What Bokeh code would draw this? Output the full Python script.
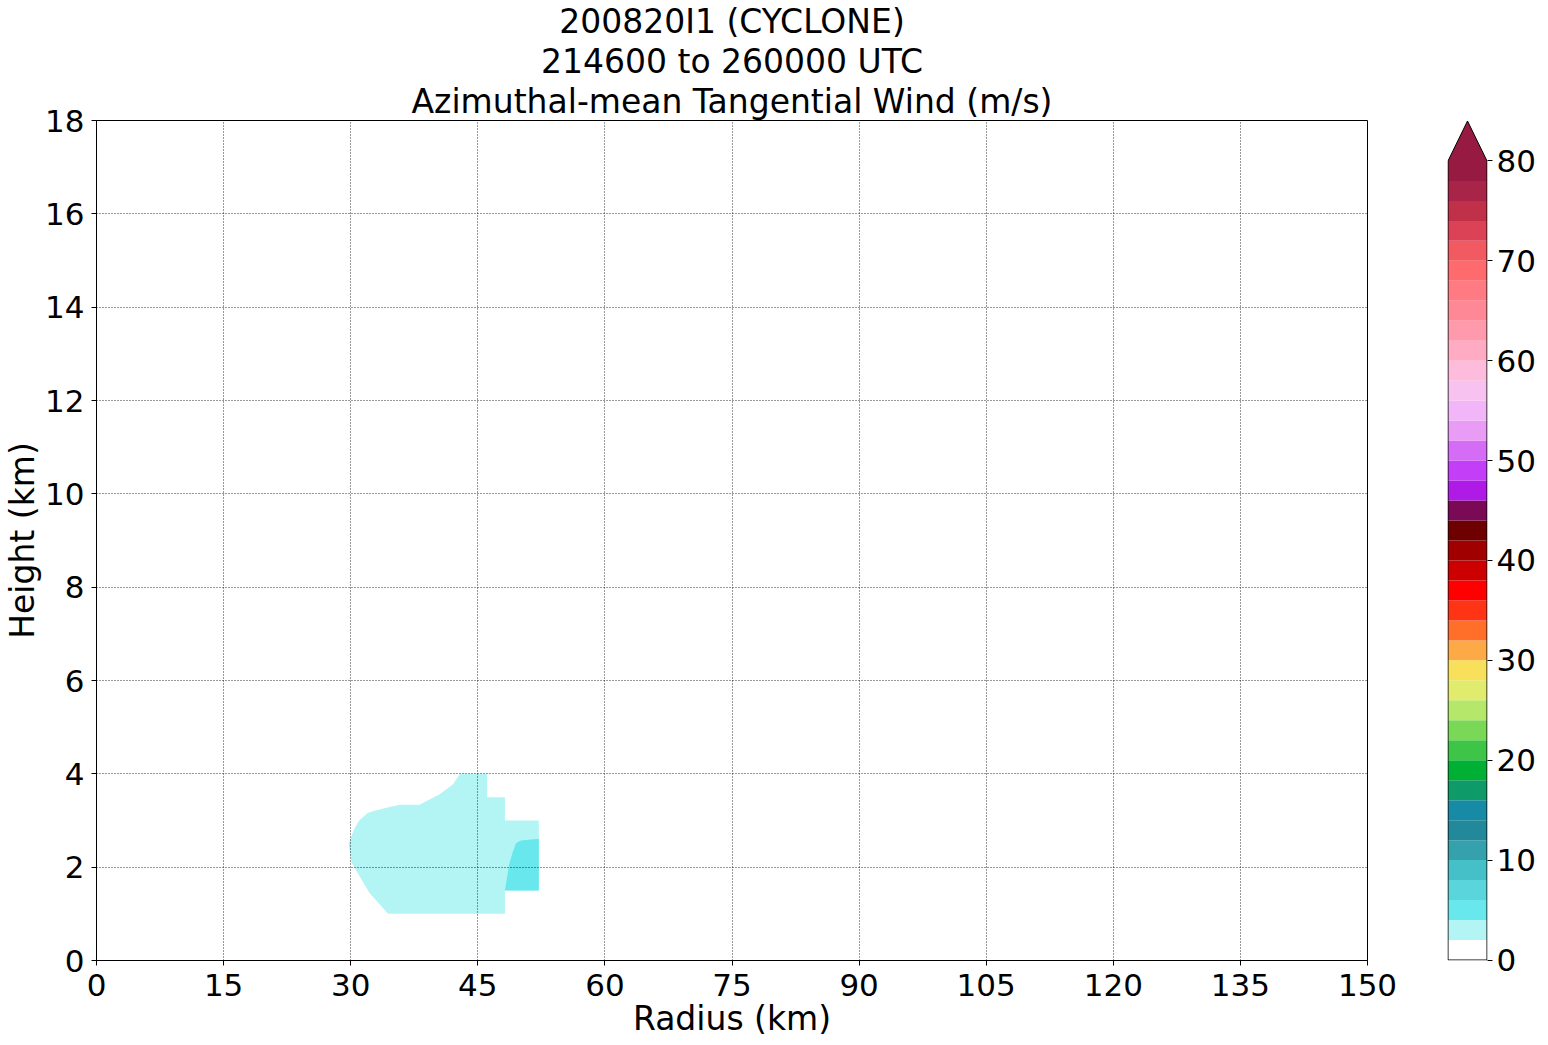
import numpy as np
from bokeh.plotting import figure
from bokeh.models import Range1d, FixedTicker, Title
from bokeh.layouts import row
from bokeh.embed import file_html
from bokeh.resources import INLINE

# ---------------- data ----------------
title_lines = ["200820I1 (CYCLONE)", "214600 to 260000 UTC",
               "Azimuthal-mean Tangential Wind (m/s)"]
x_label = "Radius (km)"
y_label = "Height (km)"
x_ticks = [0, 15, 30, 45, 60, 75, 90, 105, 120, 135, 150]
y_ticks = [0, 2, 4, 6, 8, 10, 12, 14, 16, 18]
cbar_ticks = [0, 10, 20, 30, 40, 50, 60, 70, 80]

# contour levels (m/s) and their fill colours (lower bound of each band)
levels = list(range(0, 82, 2))
level_colors = [
    "#ffffff", "#b3f5f5", "#68e8ec", "#5ad5dc", "#45bfc8", "#35a1ac",
    "#22899b", "#178ba5", "#0f9a6a", "#00b035", "#3ec447", "#7ad857",
    "#b5e86a", "#e1ec6e", "#f8e05a", "#fcaa45", "#ff6f2a", "#ff3414",
    "#ff0000", "#cc0000", "#a00000", "#6e0000", "#7a0a55", "#b01ae6",
    "#c23ff7", "#d56cf6", "#e89cf6", "#f2b6f8", "#f8c2f0", "#fdbcdc",
    "#ffabc4", "#ff9aad", "#ff8896", "#ff7a82", "#fe6a6e", "#f05a60",
    "#dc4255", "#c03048", "#a82448", "#971a42",
]
extend_color = "#971a42"

# filled-contour regions: lower bound of band,
# outline radius (km) and outline height (km)
band_lower = [2, 4]
band_radius = [
    [42.9, 46.1, 46.1, 48.2, 48.2, 52.2, 52.2, 48.2, 48.2, 34.4, 32.2,
     30.1, 29.75, 30.4, 31.0, 32.0, 32.8, 34.6, 35.8, 38.1, 39.3, 40.5,
     42.05],
    [48.2, 48.7, 49.1, 49.5, 50.1, 52.2, 52.2],
]
band_height = [
    [4.0, 4.0, 3.5, 3.5, 3.0, 3.0, 1.5, 1.5, 1.0, 1.0, 1.45,
     2.1, 2.5, 2.81, 3.0, 3.16, 3.21, 3.29, 3.34, 3.34, 3.45, 3.56,
     3.77],
    [1.5, 2.06, 2.31, 2.51, 2.57, 2.61, 1.5],
]

FONT = "DejaVu Sans"
TICK_FS = "31px"
LABEL_FS = "33px"

# ---------------- main plot ----------------
p = figure(frame_width=1271, frame_height=840,
           x_range=Range1d(0, 150), y_range=Range1d(0, 18),
           output_backend="svg", toolbar_location=None, title=None,
           min_border_left=89, min_border_right=31,
           min_border_top=113, min_border_bottom=76)
p.background_fill_color = "white"
p.border_fill_color = "white"

fills = [level_colors[levels.index(b)] for b in band_lower]
p.patches(xs=band_radius, ys=band_height, fill_color=fills,
          line_color=None)

for t in reversed(title_lines):
    p.add_layout(Title(text=t, align="center", text_font=FONT,
                       text_font_size=LABEL_FS, text_font_style="normal",
                       text_color="black", standoff=-1), "above")

for ax in (p.xaxis[0], p.yaxis[0]):
    ax.major_label_text_font = FONT
    ax.major_label_text_font_size = TICK_FS
    ax.major_label_text_color = "black"
    ax.axis_label_text_font = FONT
    ax.axis_label_text_font_size = LABEL_FS
    ax.axis_label_text_font_style = "normal"
    ax.axis_label_text_color = "black"
    ax.major_tick_out = 5
    ax.major_tick_in = 0
    ax.minor_tick_out = 0
    ax.minor_tick_in = 0
    ax.axis_line_color = "black"
    ax.major_tick_line_color = "black"
p.xaxis.ticker = FixedTicker(ticks=x_ticks)
p.yaxis.ticker = FixedTicker(ticks=y_ticks)
p.xaxis.axis_label = x_label
p.yaxis.axis_label = y_label
p.xaxis.major_label_standoff = 8
p.xaxis.axis_label_standoff = 0
p.yaxis.major_label_standoff = 7
p.yaxis.axis_label_standoff = 0

p.xgrid.ticker = FixedTicker(ticks=x_ticks)
p.ygrid.ticker = FixedTicker(ticks=y_ticks)
p.grid.grid_line_color = "black"
p.grid.grid_line_alpha = 0.8
p.grid.grid_line_dash = "1 2"
p.grid.grid_line_width = 1
p.grid.level = "overlay"
p.outline_line_color = "black"
p.outline_line_width = 1

# ---------------- colour bar ----------------
lo, hi = levels[0], levels[-1]
ext = (hi - lo) * 0.05
cb = figure(frame_width=40, frame_height=840,
            x_range=Range1d(-0.5 / 39, 1 + 0.5 / 39),
            y_range=Range1d(lo - 0.05, hi + ext + 0.05),
            output_backend="svg", toolbar_location=None, title=None,
            x_axis_location=None, y_axis_location="right",
            min_border_left=49, min_border_right=55,
            min_border_top=113, min_border_bottom=76)
cb.background_fill_color = "white"
cb.border_fill_color = "white"
cb.quad(left=0, right=1, bottom=levels[:-1], top=levels[1:],
        fill_color=level_colors, line_color=None)
cb.patch(x=[0, 1, 0.5], y=[hi, hi, hi + ext], fill_color=extend_color,
         line_color=None)
cb.line(x=[0, 1, 1, 0.5, 0, 0], y=[lo, lo, hi, hi + ext, hi, lo],
        line_color="black", line_width=1)
cb.grid.visible = False
cb.outline_line_color = None
ya = cb.yaxis[0]
ya.ticker = FixedTicker(ticks=cbar_ticks)
ya.major_label_text_font = FONT
ya.major_label_text_font_size = TICK_FS
ya.major_label_text_color = "black"
ya.axis_line_color = None
ya.major_tick_line_color = "black"
ya.major_tick_out = 5
ya.major_tick_in = 0
ya.minor_tick_out = 0
ya.minor_tick_in = 0
ya.major_label_standoff = 4

layout = row(p, cb)
open("out.html", "w").write(file_html(layout, INLINE))
